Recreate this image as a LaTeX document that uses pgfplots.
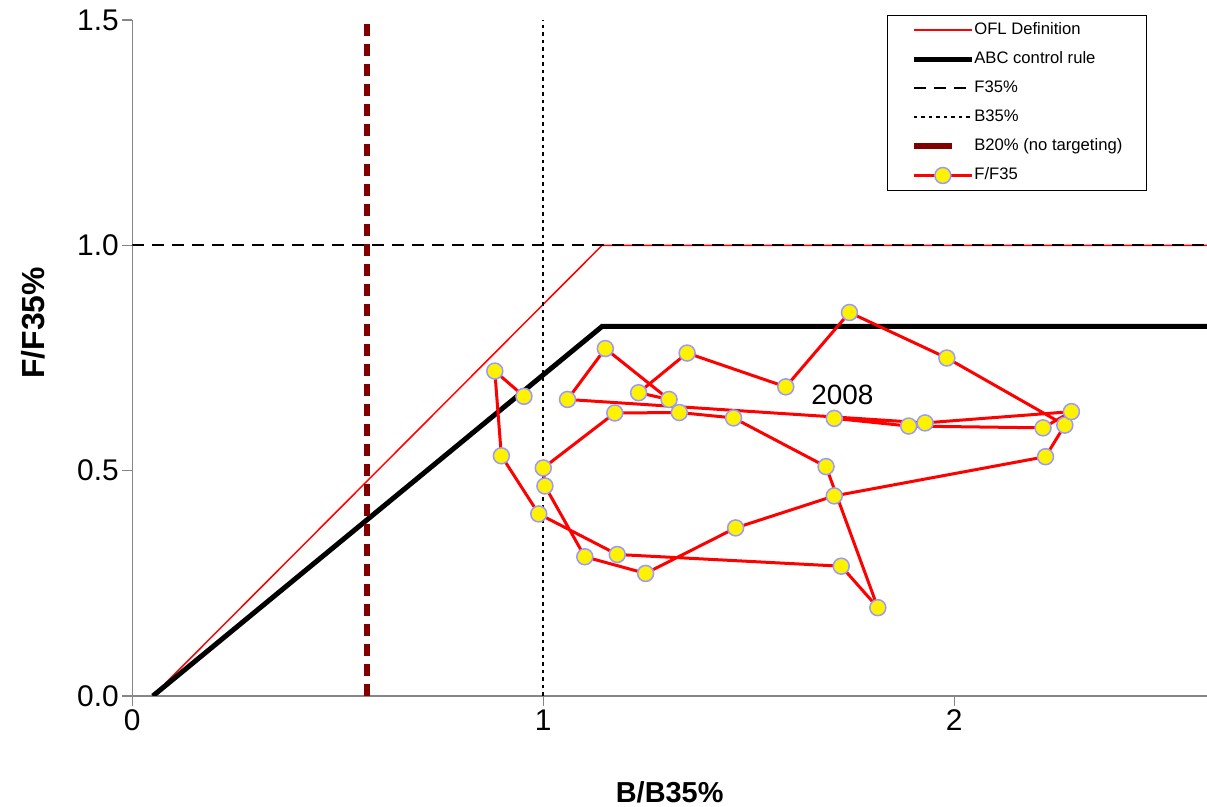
\documentclass[border=0pt]{standalone}
\usepackage{pgfplots}
\pgfplotsset{compat=1.18}
\usepackage{fontspec}
\setmainfont{Liberation Sans}
\definecolor{darkred}{HTML}{800000}
\definecolor{axgray}{HTML}{868686}
\definecolor{mkedge}{HTML}{9999FF}
\begin{document}
\begin{tikzpicture}
\useasboundingbox (0,0) rectangle (1207bp,807bp);
\begin{axis}[
  at={(132.3bp,111bp)}, anchor=south west,
  scale only axis, width=1074.7bp, height=676bp,
  xmin=0, xmax=2.615, ymin=0, ymax=1.5,
  axis x line*=bottom, axis y line*=left,
  axis line style={axgray, line width=1.5bp, -},
  xtick={0,1,2}, ytick={0,0.5,1,1.5},
  major tick length=10bp, tick align=outside,
  tick style={axgray, line width=1.5bp},
  yticklabel style={/pgf/number format/.cd, fixed, fixed zerofill, precision=1},
  xticklabel style={/pgf/number format/.cd, fixed, precision=0},
  /pgf/number format/assume math mode=true,
  ticklabel style={font=\fontsize{30}{33}\selectfont},
  xlabel={B/B35\%}, ylabel={F/F35\%},
  label style={font=\fontsize{29}{32}\selectfont\bfseries},
  xlabel style={at={(axis description cs:0.5,-0.142)}, anchor=center},
  ylabel style={at={(axis description cs:-0.092,0.552)}, anchor=center, font=\fontsize{32}{34}\selectfont\bfseries},
  legend image code/.code={\draw[mark repeat=2,mark phase=2,#1] plot coordinates {(0bp,0bp) (29bp,0bp) (58bp,0bp)};},
  legend cell align=left,
  legend style={at={(axis description cs:0.944,1.0074)}, anchor=north east,
    draw=black, line width=1bp, inner xsep=24bp, inner ysep=7bp,
    font=\fontsize{16.7}{19}\selectfont, row sep=13.5bp,
    nodes={inner sep=0bp, text height=12bp, text depth=3.5bp},
    /tikz/column 2/.style={column sep=0bp}, /tikz/column 1/.style={column sep=0bp}},
]
\addplot[red, line width=1.5bp] coordinates {(0.05,0) (1.143,1) (2.615,1)};
\addlegendentry{OFL Definition}
\addplot[black, line width=5bp] coordinates {(0.05,0) (1.143,0.82) (2.615,0.82)};
\addlegendentry{ABC control rule}
\addplot[black, line width=1.8bp, dash pattern=on 12bp off 8bp] coordinates {(0,1) (2.615,1)};
\addlegendentry{F35\%}
\addplot[black, line width=2bp, dash pattern=on 3.5bp off 4bp] coordinates {(1,0) (1,1.5)};
\addlegendentry{B35\%}
\addplot[darkred, line width=5.5bp, dash pattern=on 12bp off 8bp,
  legend image code/.code={\draw[darkred, solid, line width=5.5bp] (0bp,0bp) -- (38bp,0bp);}] coordinates {(0.571,0) (0.571,1.5)};
\addlegendentry{B20\% (no targeting)}
\addplot[red, line width=3bp, mark=*, mark size=8bp,
  mark options={fill=yellow, draw=mkedge, line width=1.5bp, solid}] coordinates {
(0.953,0.665) (0.882,0.721) (0.898,0.533) (0.989,0.404) (1.180,0.314)
(1.725,0.288) (1.814,0.196) (1.688,0.509) (1.463,0.617) (1.331,0.629)
(1.174,0.628) (1.000,0.506) (1.004,0.466) (1.101,0.309) (1.249,0.272)
(1.468,0.373) (1.708,0.444) (2.222,0.531) (2.269,0.601) (1.982,0.750)
(1.745,0.851) (1.590,0.686) (1.350,0.761) (1.232,0.673) (1.306,0.658)
(1.151,0.771) (1.059,0.658) (1.929,0.606) (2.285,0.631) (2.216,0.595)
(1.889,0.599) (1.708,0.616)};
\addlegendentry{F/F35}
\node[anchor=west, inner sep=0pt, font=\fontsize{28}{30}\selectfont] at (axis cs:1.652,0.668) {2008};
\end{axis}
\end{tikzpicture}
\end{document}
